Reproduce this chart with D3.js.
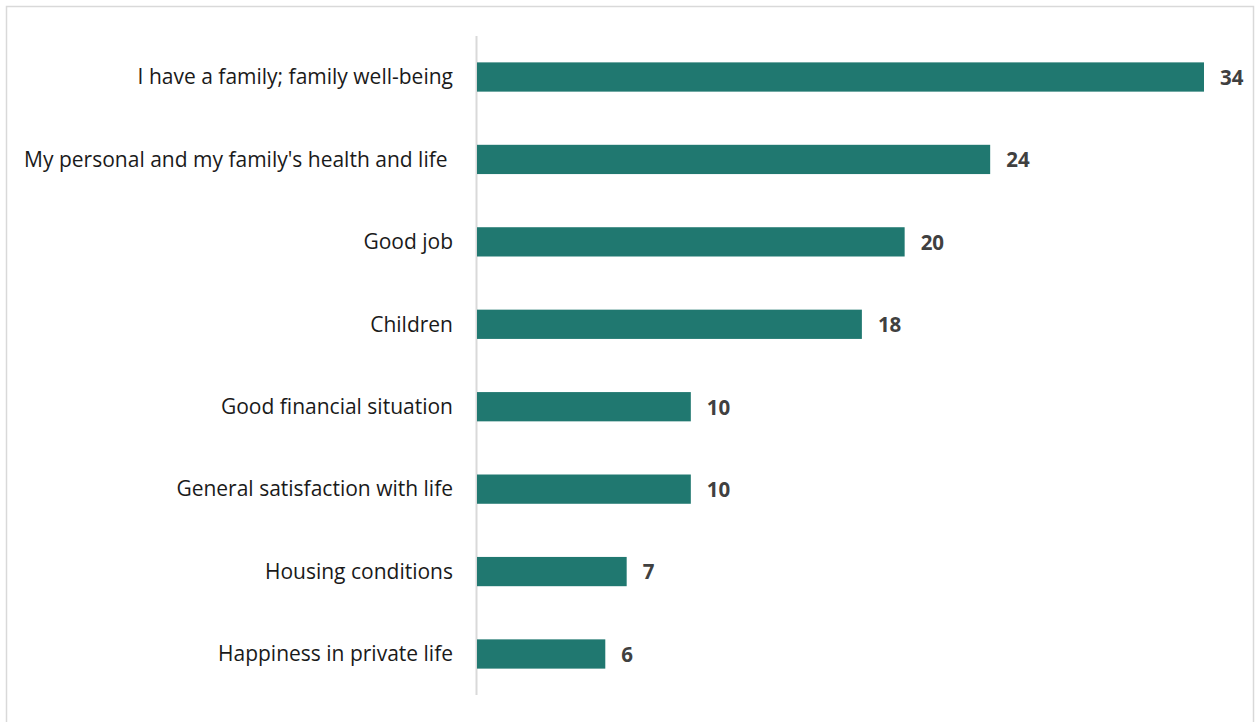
<!DOCTYPE html>
<html>
<head>
<meta charset="utf-8">
<script src="https://cdn.jsdelivr.net/npm/d3@7"></script>
<style>
  html, body { margin: 0; padding: 0; background: #fff; }
  svg { display: block; }
</style>
</head>
<body>
<svg id="chart" width="1259" height="722"></svg>
<script>
// Reasons for satisfaction, share of respondents (%)
const categories = [
  "I have a family; family well-being",
  "My personal and my family's health and life ",
  "Good job",
  "Children",
  "Good financial situation",
  "General satisfaction with life",
  "Housing conditions",
  "Happiness in private life"
];
const values = [34, 24, 20, 18, 10, 10, 7, 6];

const svg = d3.select("#chart");

// chart frame
svg.append("rect")
  .attr("x", 6.5).attr("y", 6.5)
  .attr("width", 1247).attr("height", 730)
  .attr("fill", "#fff")
  .attr("stroke", "#d9d9d9")
  .attr("stroke-width", 1.5);

const x0 = 477;
const x = d3.scaleLinear().domain([0, 34]).range([x0, 1204]);
const y = d3.scaleBand().domain(categories).range([36, 695]).paddingInner(0.645).paddingOuter(0.32);

// vertical category axis line
svg.append("line")
  .attr("x1", x0 - 0.5).attr("x2", x0 - 0.5)
  .attr("y1", 36).attr("y2", 695)
  .attr("stroke", "#d9d9d9").attr("stroke-width", 2);

const rows = categories.map((c, i) => ({ c, v: values[i] }));

svg.selectAll("rect.bar").data(rows).enter().append("rect")
  .attr("class", "bar")
  .attr("x", x(0))
  .attr("y", d => y(d.c))
  .attr("width", d => x(d.v) - x(0))
  .attr("height", y.bandwidth())
  .attr("fill", "#207870");

svg.selectAll("text.cat").data(rows).enter().append("text")
  .attr("class", "cat")
  .attr("x", 453)
  .attr("y", d => y(d.c) + y.bandwidth() / 2)
  .attr("dy", "0.35em")
  .attr("text-anchor", "end")
  .attr("font-family", "'Open Sans', sans-serif")
  .attr("font-size", 21)
  .attr("fill", "#1a1a1a")
  .style("white-space", "pre")
  .text(d => d.c);

svg.selectAll("text.val").data(rows).enter().append("text")
  .attr("class", "val")
  .attr("x", d => x(d.v) + 16)
  .attr("y", d => y(d.c) + y.bandwidth() / 2)
  .attr("dy", "0.38em")
  .attr("font-family", "'Open Sans', sans-serif")
  .attr("font-weight", "bold")
  .attr("font-size", 20.5)
  .attr("fill", "#404040")
  .text(d => d.v);
</script>
</body>
</html>
